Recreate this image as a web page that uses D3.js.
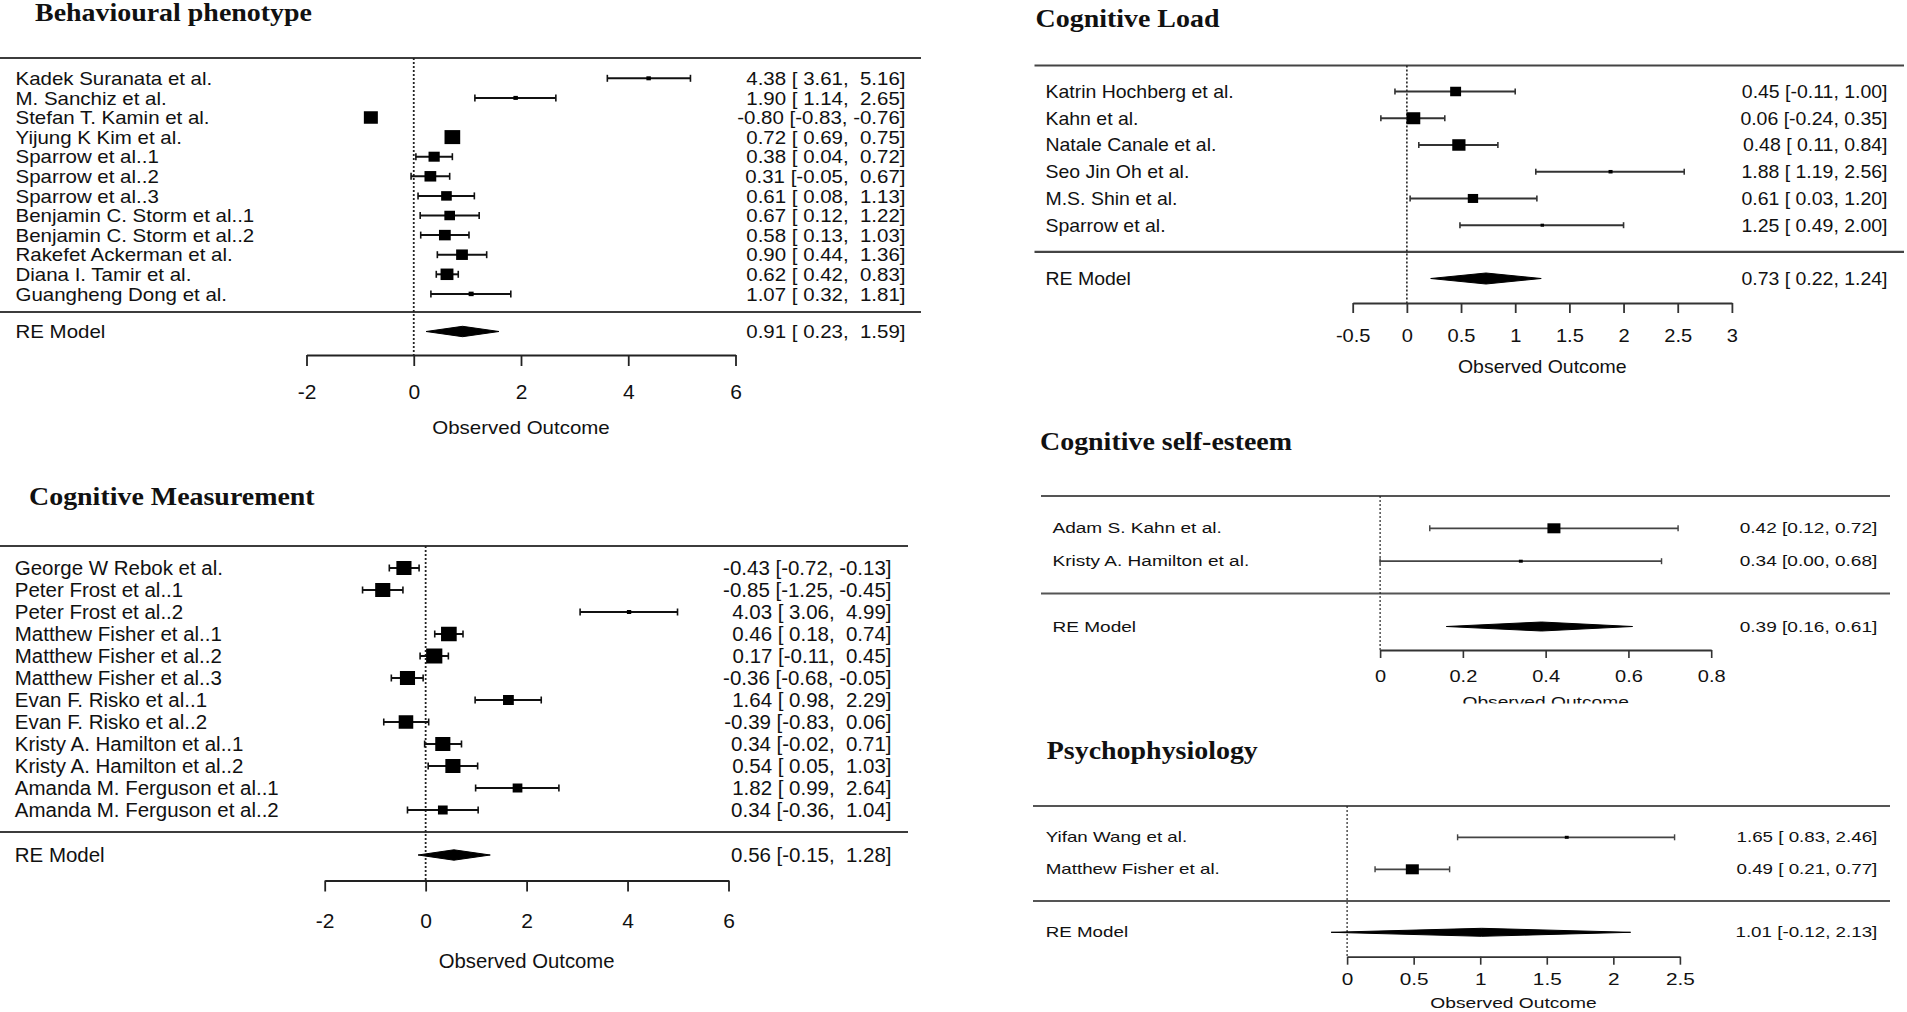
<!DOCTYPE html>
<html>
<head>
<meta charset="utf-8">
<script src="https://cdn.jsdelivr.net/npm/d3@7"></script>
<style>
html,body{margin:0;padding:0;background:#fff;}
svg{display:block;background:#fff;}
</style>
</head>
<body>
<svg id="chart" width="1907" height="1012"></svg>
<script>
// ================= DATA =================
// Behavioural phenotype
const bpTitle = "Behavioural phenotype";
const bpStudies = ["Kadek Suranata et al.", "M. Sanchiz et al.", "Stefan T. Kamin et al.", "Yijung K Kim et al.", "Sparrow et al..1", "Sparrow et al..2", "Sparrow et al..3", "Benjamin C. Storm et al..1", "Benjamin C. Storm et al..2", "Rakefet Ackerman et al.", "Diana I. Tamir et al.", "Guangheng Dong et al."];
const bpEst   = [4.38, 1.90, -0.80, 0.72, 0.38, 0.31, 0.61, 0.67, 0.58, 0.90, 0.62, 1.07];
const bpLower = [3.61, 1.14, -0.83, 0.69, 0.04, -0.05, 0.08, 0.12, 0.13, 0.44, 0.42, 0.32];
const bpUpper = [5.16, 2.65, -0.76, 0.75, 0.72, 0.67, 1.13, 1.22, 1.03, 1.36, 0.83, 1.81];
const bpWeights = [4, 4, 12.5, 14, 10, 10.5, 9.5, 9.5, 10.5, 10.5, 11.5, 4.5];
const bpModel = [0.91, 0.23, 1.59];
const bpTicks = [-2, 0, 2, 4, 6];
const bpTickLabels = ["-2", "0", "2", "4", "6"];

// Cognitive Measurement
const cmTitle = "Cognitive Measurement";
const cmStudies = ["George W Rebok et al.", "Peter Frost et al..1", "Peter Frost et al..2", "Matthew Fisher et al..1", "Matthew Fisher et al..2", "Matthew Fisher et al..3", "Evan F. Risko et al..1", "Evan F. Risko et al..2", "Kristy A. Hamilton et al..1", "Kristy A. Hamilton et al..2", "Amanda M. Ferguson et al..1", "Amanda M. Ferguson et al..2"];
const cmEst   = [-0.43, -0.85, 4.03, 0.46, 0.17, -0.36, 1.64, -0.39, 0.34, 0.54, 1.82, 0.34];
const cmLower = [-0.72, -1.25, 3.06, 0.18, -0.11, -0.68, 0.98, -0.83, -0.02, 0.05, 0.99, -0.36];
const cmUpper = [-0.13, -0.45, 4.99, 0.74, 0.45, -0.05, 2.29, 0.06, 0.71, 1.03, 2.64, 1.04];
const cmWeights = [14, 14, 4, 14.5, 15, 14, 10, 13.5, 14, 14, 9, 9];
const cmModel = [0.56, -0.15, 1.28];
const cmTicks = [-2, 0, 2, 4, 6];
const cmTickLabels = ["-2", "0", "2", "4", "6"];

// Cognitive Load
const clTitle = "Cognitive Load";
const clStudies = ["Katrin Hochberg et al.", "Kahn et al.", "Natale Canale et al.", "Seo Jin Oh et al.", "M.S. Shin et al.", "Sparrow et al."];
const clEst   = [0.45, 0.06, 0.48, 1.88, 0.61, 1.25];
const clLower = [-0.11, -0.24, 0.11, 1.19, 0.03, 0.49];
const clUpper = [1.00, 0.35, 0.84, 2.56, 1.20, 2.00];
const clWeights = [9.5, 12, 11.5, 3.5, 9, 3];
const clModel = [0.73, 0.22, 1.24];
const clTicks = [-0.5, 0, 0.5, 1, 1.5, 2, 2.5, 3];
const clTickLabels = ["-0.5", "0", "0.5", "1", "1.5", "2", "2.5", "3"];

// Cognitive self-esteem
const seTitle = "Cognitive self-esteem";
const seStudies = ["Adam S. Kahn et al.", "Kristy A. Hamilton et al."];
const seEst   = [0.42, 0.34];
const seLower = [0.12, 0.00];
const seUpper = [0.72, 0.68];
const seWeights = [10, 3];
const seModel = [0.39, 0.16, 0.61];
const seTicks = [0, 0.2, 0.4, 0.6, 0.8];
const seTickLabels = ["0", "0.2", "0.4", "0.6", "0.8"];

// Psychophysiology
const ppTitle = "Psychophysiology";
const ppStudies = ["Yifan Wang et al.", "Matthew Fisher et al."];
const ppEst   = [1.65, 0.49];
const ppLower = [0.83, 0.21];
const ppUpper = [2.46, 0.77];
const ppWeights = [3, 10];
const ppModel = [1.01, -0.12, 2.13];
const ppTicks = [0, 0.5, 1, 1.5, 2, 2.5];
const ppTickLabels = ["0", "0.5", "1", "1.5", "2", "2.5"];

const modelLabel = "RE Model";
const axisTitle = "Observed Outcome";

// ================= LAYOUT / STYLE =================
const SANS = "'Liberation Sans', Arial, Helvetica, sans-serif";
const SERIF = "'Liberation Serif', 'Times New Roman', Times, serif";
const INK = "#111";

const panels = [
  { title: bpTitle, studies: bpStudies, est: bpEst, lo: bpLower, hi: bpUpper, w: bpWeights, model: bpModel, ticks: bpTicks, tickLabels: bpTickLabels,
    domain: [-2, 6], range: [306.5, 735.5], titleX: 35, titleY: 21,
    lineX: [0, 921], topY: 58, firstY: 78.3, lastY: 293.9, sepY: 312, reY: 331.5, axisY: 355, tickLen: 11,
    tickBase: 399, obsBase: 433.5, labelX: 15.5, rightX: 905.5,
    fs: 18.6, sx: 1.1, tfs: 21, tsx: 1.0, ofs: 18.6, osx: 1.1,
    ruleColor: "#3c3c3c", ruleW: 2.2, ciColor: "#111", ciW: 2, capH: 7, sqAspect: 1.12, diaH: 5.2,
    refW: 1.8, axisW: 2, axisColor: "#222" },
  { title: cmTitle, studies: cmStudies, est: cmEst, lo: cmLower, hi: cmUpper, w: cmWeights, model: cmModel, ticks: cmTicks, tickLabels: cmTickLabels,
    domain: [-2, 6], range: [324.7, 728.5], titleX: 29, titleY: 505,
    lineX: [0, 908], topY: 546, firstY: 568, lastY: 810, sepY: 832, reY: 855, axisY: 880.5, tickLen: 11,
    tickBase: 928, obsBase: 968, labelX: 14.8, rightX: 891.5,
    fs: 19.5, sx: 1.05, tfs: 21, tsx: 1.0, ofs: 19.5, osx: 1.04,
    ruleColor: "#3c3c3c", ruleW: 2.2, ciColor: "#111", ciW: 2, capH: 7, sqAspect: 1.08, diaH: 5.2,
    refW: 1.8, axisW: 2, axisColor: "#222" },
  { title: clTitle, studies: clStudies, est: clEst, lo: clLower, hi: clUpper, w: clWeights, model: clModel, ticks: clTicks, tickLabels: clTickLabels,
    domain: [-0.5, 3], range: [1352.7, 1731.9], titleX: 1035.6, titleY: 26.7,
    lineX: [1034.5, 1904], topY: 65.5, firstY: 91.5, lastY: 225.2, sepY: 251.8, reY: 278.5, axisY: 303, tickLen: 10,
    tickBase: 341.7, obsBase: 372.8, labelX: 1045.5, rightX: 1887.5,
    fs: 17.7, sx: 1.1, tfs: 18.6, tsx: 1.08, ofs: 17.7, osx: 1.1,
    ruleColor: "#444", ruleW: 2.2, ciColor: "#333", ciW: 2, capH: 6, sqAspect: 1.15, diaH: 5.5,
    refW: 1.6, axisW: 2, axisColor: "#333" },
  { title: seTitle, studies: seStudies, est: seEst, lo: seLower, hi: seUpper, w: seWeights, model: seModel, ticks: seTicks, tickLabels: seTickLabels,
    domain: [0, 0.8], range: [1380.1, 1711.2], titleX: 1040, titleY: 450,
    lineX: [1041, 1890], topY: 496, firstY: 528.3, lastY: 561.2, sepY: 593.5, reY: 626.5, axisY: 650, tickLen: 8,
    tickBase: 681.7, obsBase: 706.5, obsClip: 703.5, labelX: 1052.5, rightX: 1877.3,
    fs: 14, sx: 1.36, tfs: 16, tsx: 1.25, ofs: 15, osx: 1.28,
    ruleColor: "#555", ruleW: 2, ciColor: "#444", ciW: 1.8, capH: 6, sqAspect: 1.3, diaH: 4.5,
    refW: 1.2, axisW: 1.8, axisColor: "#333" },
  { title: ppTitle, studies: ppStudies, est: ppEst, lo: ppLower, hi: ppUpper, w: ppWeights, model: ppModel, ticks: ppTicks, tickLabels: ppTickLabels,
    domain: [0, 2.5], range: [1347.1, 1679.9], titleX: 1046.8, titleY: 759.3,
    lineX: [1033, 1890], topY: 806, firstY: 837.3, lastY: 869.3, sepY: 901, reY: 932.3, axisY: 956.7, tickLen: 8,
    tickBase: 985, obsBase: 1008, labelX: 1045.7, rightX: 1877.3,
    fs: 14, sx: 1.34, tfs: 16, tsx: 1.3, ofs: 15, osx: 1.28,
    ruleColor: "#555", ruleW: 2, ciColor: "#444", ciW: 1.8, capH: 6, sqAspect: 1.3, diaH: 4,
    refW: 1.2, axisW: 1.8, axisColor: "#333" }
];

const svg = d3.select("#chart");
svg.append("rect").attr("width", 1907).attr("height", 1012).attr("fill", "#fff");

function addText(g, x, y, s, o) {
  return g.append("text")
    .attr("transform", `translate(${x},${y}) scale(${o.sx || 1},1)`)
    .attr("text-anchor", o.anchor || "start")
    .style("font-family", o.family || SANS)
    .style("font-size", o.size + "px")
    .style("font-weight", o.weight || "normal")
    .style("white-space", "pre")
    .attr("fill", INK)
    .text(s);
}

function padCol(vals) {
  const s = vals.map(v => v.toFixed(2));
  const m = d3.max(s, d => d.length);
  return s.map(d => " ".repeat(m - d.length) + d);
}

panels.forEach((P, pi) => {
  const g = svg.append("g").attr("class", "panel panel-" + pi);
  const x = d3.scaleLinear().domain(P.domain).range(P.range);
  const n = P.studies.length;
  const y = d3.scaleLinear().domain([0, n - 1]).range([P.firstY, P.lastY]);
  const side = d3.scaleLinear().domain([0, 1]).range([0, 1]); // weight -> square height (px)

  // title
  addText(g, P.titleX, P.titleY, P.title, { size: 24.5, sx: 1.14, family: SERIF, weight: "bold" });

  // horizontal rules
  [P.topY, P.sepY].forEach(yy => {
    g.append("line").attr("x1", P.lineX[0]).attr("x2", P.lineX[1])
      .attr("y1", yy).attr("y2", yy)
      .attr("stroke", P.ruleColor).attr("stroke-width", P.ruleW);
  });

  // reference line at 0
  g.append("line").attr("x1", x(0)).attr("x2", x(0))
    .attr("y1", P.topY).attr("y2", P.axisY)
    .attr("stroke", "#222").attr("stroke-width", P.refW)
    .attr("stroke-dasharray", "2,2");

  // annotation strings (all rows + model)
  const allEst = P.est.concat([P.model[0]]);
  const allLo = P.lo.concat([P.model[1]]);
  const allHi = P.hi.concat([P.model[2]]);
  const cE = allEst.map(v => v.toFixed(2));
  const cL = padCol(allLo);
  const cH = padCol(allHi);
  const ann = cE.map((e, i) => `${e} [${cL[i]}, ${cH[i]}]`);

  const rows = P.studies.map((name, i) => ({ name, est: P.est[i], lo: P.lo[i], hi: P.hi[i], w: P.w[i], i }));

  // CI lines
  const rg = g.append("g");
  rg.selectAll("line.ci").data(rows).enter().append("line").attr("class", "ci")
    .attr("x1", d => x(d.lo)).attr("x2", d => x(d.hi))
    .attr("y1", d => y(d.i)).attr("y2", d => y(d.i))
    .attr("stroke", P.ciColor).attr("stroke-width", P.ciW);
  ["lo", "hi"].forEach(k => {
    rg.selectAll("line.cap-" + k).data(rows).enter().append("line").attr("class", "cap-" + k)
      .attr("x1", d => x(d[k])).attr("x2", d => x(d[k]))
      .attr("y1", d => y(d.i) - P.capH / 2).attr("y2", d => y(d.i) + P.capH / 2)
      .attr("stroke", P.ciColor).attr("stroke-width", P.ciW * 0.8);
  });
  // squares
  rg.selectAll("rect.sq").data(rows).enter().append("rect").attr("class", "sq")
    .attr("x", d => x(d.est) - side(d.w) * P.sqAspect / 2)
    .attr("y", d => y(d.i) - side(d.w) / 2)
    .attr("width", d => side(d.w) * P.sqAspect)
    .attr("height", d => side(d.w))
    .attr("fill", "#000");

  // labels
  rows.forEach(d => {
    addText(g, P.labelX, y(d.i) + 0.358 * P.fs, d.name, { size: P.fs, sx: P.sx });
    addText(g, P.rightX, y(d.i) + 0.358 * P.fs, ann[d.i], { size: P.fs, sx: P.sx, anchor: "end" });
  });

  // RE model
  const [mE, mL, mH] = P.model;
  g.append("polygon")
    .attr("points", [[x(mL), P.reY], [x(mE), P.reY - P.diaH], [x(mH), P.reY], [x(mE), P.reY + P.diaH]].map(p => p.join(",")).join(" "))
    .attr("fill", "#000").attr("stroke", "#000").attr("stroke-width", 1);
  addText(g, P.labelX, P.reY + 0.358 * P.fs, modelLabel, { size: P.fs, sx: P.sx });
  addText(g, P.rightX, P.reY + 0.358 * P.fs, ann[n], { size: P.fs, sx: P.sx, anchor: "end" });

  // axis
  const axis = d3.axisBottom(x).tickValues(P.ticks)
    .tickFormat((d, i) => P.tickLabels[i]).tickSize(P.tickLen).tickSizeOuter(0);
  const ag = g.append("g").attr("transform", `translate(0,${P.axisY})`).call(axis);
  ag.select(".domain").attr("stroke", P.axisColor).attr("stroke-width", P.axisW);
  ag.selectAll(".tick line").attr("stroke", P.axisColor).attr("stroke-width", P.axisW * 0.9);
  ag.selectAll(".tick text")
    .attr("y", null).attr("dy", null)
    .attr("transform", `translate(0,${P.tickBase - P.axisY}) scale(${P.tsx},1)`)
    .attr("fill", INK)
    .style("font-family", SANS).style("font-size", P.tfs + "px");

  // axis title
  const ot = addText(g, (P.range[0] + P.range[1]) / 2, P.obsBase, axisTitle, { size: P.ofs, sx: P.osx, anchor: "middle" });
  if (P.obsClip) {
    const id = "clip-" + pi;
    svg.append("defs").append("clipPath").attr("id", id)
      .attr("clipPathUnits", "userSpaceOnUse")
      .append("rect").attr("x", 0).attr("y", 0).attr("width", 1907).attr("height", P.obsClip);
    const wrap = g.append("g").attr("clip-path", `url(#${id})`);
    wrap.node().appendChild(ot.node());
  }
});
</script>
</body>
</html>
